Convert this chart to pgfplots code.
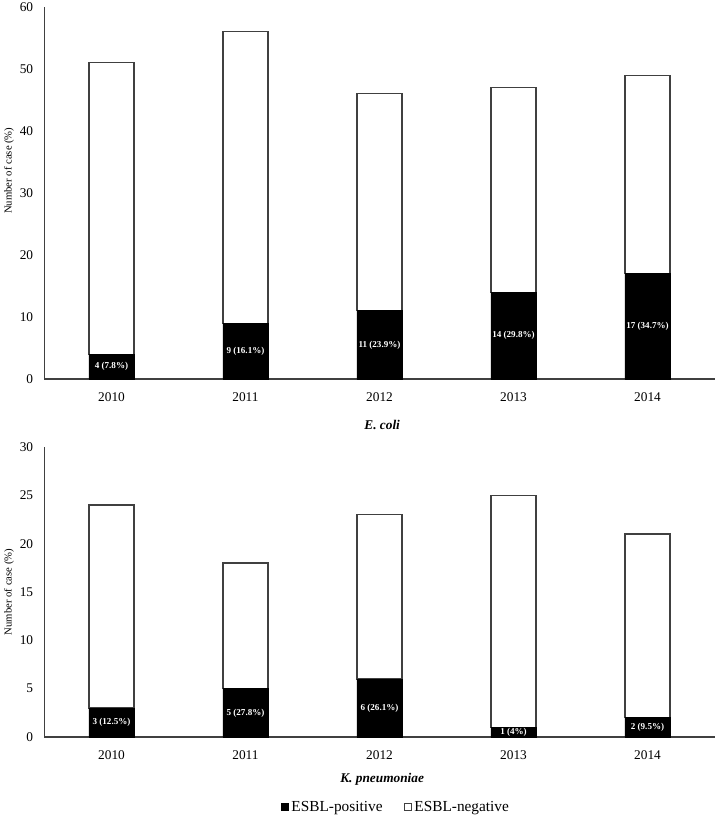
\documentclass[border=0pt]{standalone}
\usepackage{pgfplots}
\pgfplotsset{compat=1.18}
\usepackage{pgfplotstable}
\usepackage{fontspec}
\setmainfont{Liberation Serif}

\pgfplotstableread[col sep=comma]{
x,pos,neg,label
0,4,47,4 (7.8\%)
1,9,47,9 (16.1\%)
2,11,35,11 (23.9\%)
3,14,33,14 (29.8\%)
4,17,32,17 (34.7\%)
}\ecoli

\pgfplotstableread[col sep=comma]{
x,pos,neg,label
0,3,21,3 (12.5\%)
1,5,13,5 (27.8\%)
2,6,17,6 (26.1\%)
3,1,24,1 (4\%)
4,2,19,2 (9.5\%)
}\kpneu

\pgfplotsset{
  mybars/.style={
    scale only axis, width=502.5pt,
    ybar stacked, bar width=0.336,
    xmin=-0.5, xmax=4.5, ymin=0,
    xtick={0,...,4}, xticklabels={2010,2011,2012,2013,2014},
    axis x line*=bottom, axis y line*=left,
    axis line style={-, black!75, line width=0.9pt},
    major tick length=0pt, tick style={draw=none},
    ticklabel style={font=\fontsize{10}{12}\selectfont},
    /pgf/number format/assume math mode=true,
    yticklabel style={xshift=-5pt},
    xticklabel style={yshift=-6.75pt},
    ylabel={Number of case (\%)},
    ylabel style={font=\fontsize{8}{10}\selectfont, anchor=center},
    xlabel style={font=\bfseries\itshape\fontsize{10}{12}\selectfont, anchor=center},
    clip=false,
  },
  labelaxis/.style={scale only axis, width=502.5pt,
    xmin=-0.5, xmax=4.5, ymin=0, hide axis, clip=false},
  labelplot/.style={draw=none, mark=none,
    nodes near coords, point meta=explicit symbolic,
    every node near coord/.append style={anchor=center, text=white,
      font=\bfseries\fontsize{6.8}{8}\selectfont, inner sep=0pt}},
  posbar/.style={fill=black, draw=black, line width=0.6pt},
  negbar/.style={fill=white, draw=black!75, line width=1pt},
}

\begin{document}
\begin{tikzpicture}
\useasboundingbox (-33.375pt,-328.5pt) rectangle (504.375pt,284.25pt);
\begin{axis}[mybars, at={(0pt,0pt)}, anchor=south west,
  height=279pt, ymax=60, ytick={0,10,...,60},
  ylabel style={at={(axis description cs:0,0.56)}, yshift=26.6pt},
  xlabel={E. coli},
  xlabel style={at={(axis description cs:0.504,0)}, yshift=-34.5pt}]
\addplot[posbar] table[x=x, y=pos] {\ecoli};
\addplot[negbar] table[x=x, y=neg] {\ecoli};
\end{axis}
\begin{axis}[labelaxis, at={(0pt,0pt)}, anchor=south west,
  height=279pt, ymax=60]
\addplot[labelplot] table[x=x, y expr=\thisrow{pos}/2, meta=label] {\ecoli};
\end{axis}
\begin{axis}[mybars, at={(0pt,-268.5pt)}, anchor=south west,
  height=217.5pt, ymax=30, ytick={0,5,...,30},
  ylabel style={at={(axis description cs:0,0.5)}, yshift=26.6pt},
  xlabel={K. pneumoniae},
  xlabel style={at={(axis description cs:0.504,0)}, yshift=-31.5pt},
  legend columns=2,
  legend style={at={(axis description cs:0.525,0)}, anchor=center, yshift=-52.5pt,
    draw=none, fill=none, font=\fontsize{11.5}{13}\selectfont,
    /tikz/every even column/.append style={column sep=14pt}},
  legend image code/.code={\draw[#1, line width=0.7pt] (0pt,-2.6pt) rectangle (5.2pt,2.6pt);}]
\addplot[posbar] table[x=x, y=pos] {\kpneu};
\addlegendentry{ESBL-positive}
\addplot[negbar] table[x=x, y=neg] {\kpneu};
\addlegendentry{ESBL-negative}
\end{axis}
\begin{axis}[labelaxis, at={(0pt,-268.5pt)}, anchor=south west,
  height=217.5pt, ymax=30]
\addplot[labelplot] table[x=x, y expr=\thisrow{pos}/2, meta=label] {\kpneu};
\end{axis}
\end{tikzpicture}
\end{document}
